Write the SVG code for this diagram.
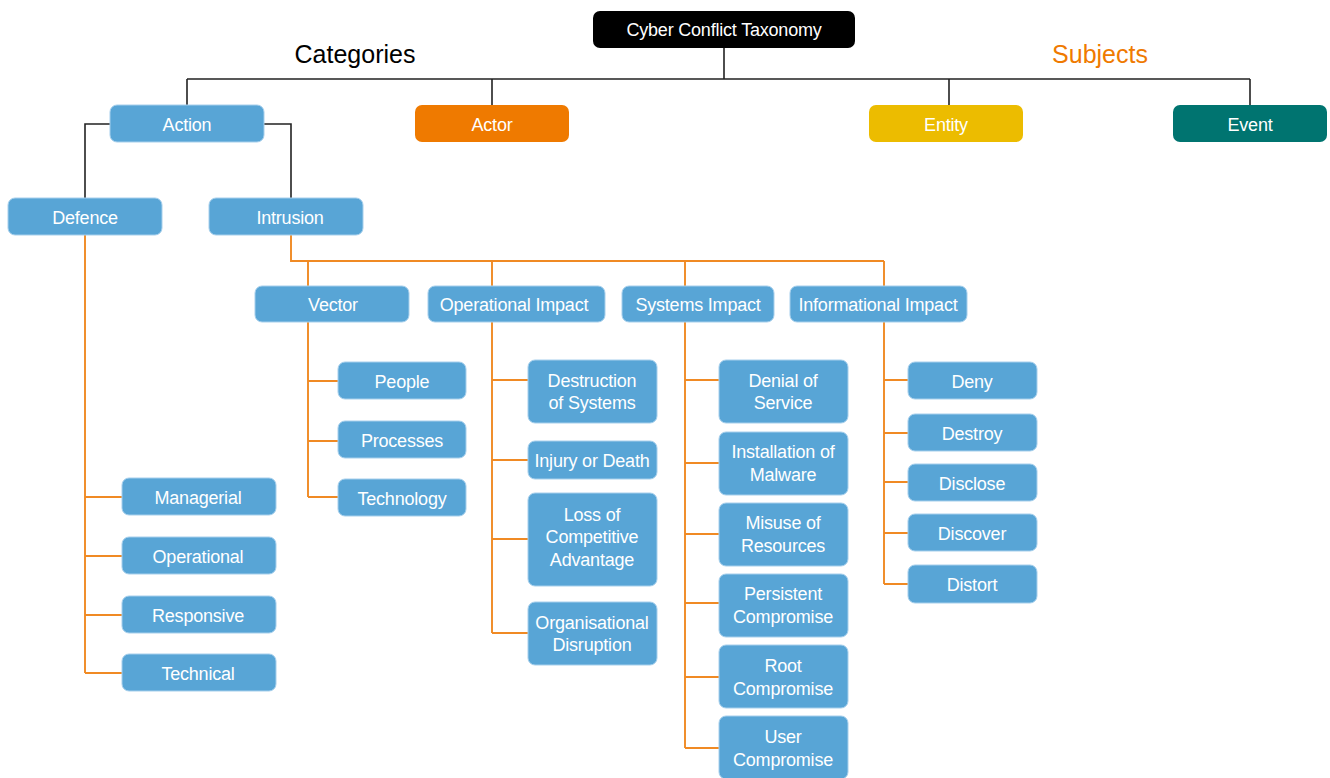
<svg xmlns="http://www.w3.org/2000/svg" width="1330" height="778" viewBox="0 0 1330 778">
  <style>
    .box { fill: #58a5d6; stroke: #a6cfec; stroke-width: 1; }
    .actor { fill: #ef7a00; }
    .entity { fill: #ecbc00; }
    .event { fill: #007470; }
    .root { fill: #000000; }
    .lbl { font-family: "Liberation Sans", Arial, sans-serif; font-size: 18px; fill: #ffffff; text-anchor: middle; letter-spacing: -0.2px; }
    .head { font-family: "Liberation Sans", Arial, sans-serif; font-size: 25px; text-anchor: middle; }
    .blk { fill: none; stroke: #222222; stroke-width: 1.6; }
    .org { fill: none; stroke: #f08a24; stroke-width: 1.9; }
  </style>

  <!-- section headings -->
  <text class="head" x="355" y="63" fill="#000000">Categories</text>
  <text class="head" x="1100" y="63" fill="#ef7a00">Subjects</text>

  <g id="connectors">
    <!-- top level (black) -->
    <path class="blk" d="M724 48 V79 M187 79 H1250 M187 79 V105 M492 79 V105 M949 79 V105 M1250 79 V105"/>
    <path class="blk" d="M110 124 H85 V198 M264 124 H291 V198"/>
    <!-- defence branch -->
    <path class="org" d="M85 235 V673 M85 497 H122 M85 556 H122 M85 615 H122 M85 673 H122"/>
    <!-- intrusion branch -->
    <path class="org" d="M291 235 V261 H884 M308 261 V286 M492 261 V286 M685 261 V286 M884 261 V286"/>
    <!-- vector -->
    <path class="org" d="M308 322 V497 M308 381 H338 M308 441 H338 M308 497 H338"/>
    <!-- operational impact -->
    <path class="org" d="M492 322 V633 M492 380 H528 M492 460 H528 M492 539 H528 M492 633 H528"/>
    <!-- systems impact -->
    <path class="org" d="M685 322 V748 M685 380 H719 M685 463 H719 M685 534 H719 M685 603 H719 M685 677 H719 M685 748 H719"/>
    <!-- informational impact -->
    <path class="org" d="M884 322 V584 M884 380 H908 M884 433 H908 M884 482 H908 M884 533 H908 M884 584 H908"/>
  </g>

  <g id="n-root"><rect class="root" x="593" y="11" width="262" height="37" rx="7"/><text class="lbl" x="724" y="36">Cyber Conflict Taxonomy</text></g>

  <g id="n-action"><rect class="box" x="110" y="105" width="154" height="37" rx="7"/><text class="lbl" x="187" y="131">Action</text></g>
  <g id="n-actor"><rect class="actor" x="415" y="105" width="154" height="37" rx="7"/><text class="lbl" x="492" y="131">Actor</text></g>
  <g id="n-entity"><rect class="entity" x="869" y="105" width="154" height="37" rx="7"/><text class="lbl" x="946" y="131">Entity</text></g>
  <g id="n-event"><rect class="event" x="1173" y="105" width="154" height="37" rx="7"/><text class="lbl" x="1250" y="131">Event</text></g>

  <g id="n-defence"><rect class="box" x="8" y="198" width="154" height="37" rx="7"/><text class="lbl" x="85" y="224">Defence</text></g>
  <g id="n-intrusion"><rect class="box" x="209" y="198" width="154" height="37" rx="7"/><text class="lbl" x="290" y="224">Intrusion</text></g>

  <g id="n-managerial"><rect class="box" x="122" y="478" width="154" height="37" rx="7"/><text class="lbl" x="198" y="504">Managerial</text></g>
  <g id="n-operational"><rect class="box" x="122" y="537" width="154" height="37" rx="7"/><text class="lbl" x="198" y="563">Operational</text></g>
  <g id="n-responsive"><rect class="box" x="122" y="596" width="154" height="37" rx="7"/><text class="lbl" x="198" y="622">Responsive</text></g>
  <g id="n-technical"><rect class="box" x="122" y="654" width="154" height="37" rx="7"/><text class="lbl" x="198" y="680">Technical</text></g>

  <g id="n-vector"><rect class="box" x="255" y="286" width="154" height="36" rx="7"/><text class="lbl" x="333" y="311">Vector</text></g>
  <g id="n-opimpact"><rect class="box" x="428" y="286" width="177" height="36" rx="7"/><text class="lbl" x="514" y="311">Operational Impact</text></g>
  <g id="n-sysimpact"><rect class="box" x="622" y="286" width="152" height="36" rx="7"/><text class="lbl" x="698" y="311">Systems Impact</text></g>
  <g id="n-infoimpact"><rect class="box" x="790" y="286" width="177" height="36" rx="7"/><text class="lbl" x="878" y="311">Informational Impact</text></g>

  <g id="n-people"><rect class="box" x="338" y="362" width="128" height="37" rx="7"/><text class="lbl" x="402" y="388">People</text></g>
  <g id="n-processes"><rect class="box" x="338" y="421" width="128" height="37" rx="7"/><text class="lbl" x="402" y="447">Processes</text></g>
  <g id="n-technology"><rect class="box" x="338" y="479" width="128" height="37" rx="7"/><text class="lbl" x="402" y="505">Technology</text></g>

  <g id="n-destruction"><rect class="box" x="528" y="360" width="129" height="63" rx="7"/><text class="lbl" x="592" y="387">Destruction</text><text class="lbl" x="592" y="409">of Systems</text></g>
  <g id="n-injury"><rect class="box" x="528" y="441" width="129" height="38" rx="7"/><text class="lbl" x="592" y="467">Injury or Death</text></g>
  <g id="n-loss"><rect class="box" x="528" y="493" width="129" height="93" rx="7"/><text class="lbl" x="592" y="521">Loss of</text><text class="lbl" x="592" y="543">Competitive</text><text class="lbl" x="592" y="566">Advantage</text></g>
  <g id="n-orgdisruption"><rect class="box" x="528" y="602" width="129" height="63" rx="7"/><text class="lbl" x="592" y="629">Organisational</text><text class="lbl" x="592" y="651">Disruption</text></g>

  <g id="n-dos"><rect class="box" x="719" y="360" width="129" height="63" rx="7"/><text class="lbl" x="783" y="387">Denial of</text><text class="lbl" x="783" y="409">Service</text></g>
  <g id="n-malware"><rect class="box" x="719" y="432" width="129" height="63" rx="7"/><text class="lbl" x="783" y="458">Installation of</text><text class="lbl" x="783" y="481">Malware</text></g>
  <g id="n-misuse"><rect class="box" x="719" y="503" width="129" height="63" rx="7"/><text class="lbl" x="783" y="529">Misuse of</text><text class="lbl" x="783" y="552">Resources</text></g>
  <g id="n-persistent"><rect class="box" x="719" y="574" width="129" height="63" rx="7"/><text class="lbl" x="783" y="600">Persistent</text><text class="lbl" x="783" y="623">Compromise</text></g>
  <g id="n-root-comp"><rect class="box" x="719" y="645" width="129" height="63" rx="7"/><text class="lbl" x="783" y="672">Root</text><text class="lbl" x="783" y="695">Compromise</text></g>
  <g id="n-user-comp"><rect class="box" x="719" y="716" width="129" height="63" rx="7"/><text class="lbl" x="783" y="743">User</text><text class="lbl" x="783" y="766">Compromise</text></g>

  <g id="n-deny"><rect class="box" x="908" y="362" width="129" height="37" rx="7"/><text class="lbl" x="972" y="388">Deny</text></g>
  <g id="n-destroy"><rect class="box" x="908" y="414" width="129" height="37" rx="7"/><text class="lbl" x="972" y="440">Destroy</text></g>
  <g id="n-disclose"><rect class="box" x="908" y="464" width="129" height="37" rx="7"/><text class="lbl" x="972" y="490">Disclose</text></g>
  <g id="n-discover"><rect class="box" x="908" y="514" width="129" height="37" rx="7"/><text class="lbl" x="972" y="540">Discover</text></g>
  <g id="n-distort"><rect class="box" x="908" y="565" width="129" height="38" rx="7"/><text class="lbl" x="972" y="591">Distort</text></g>
</svg>
